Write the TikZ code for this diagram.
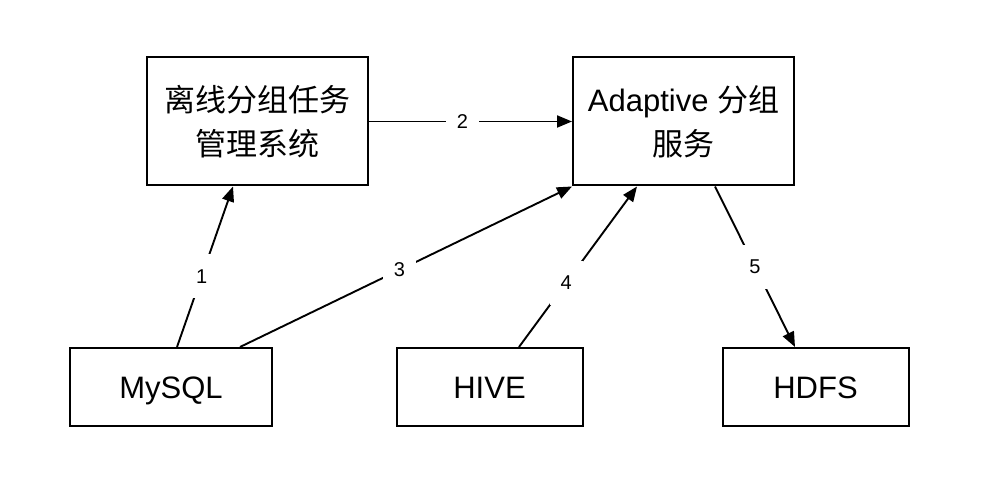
\documentclass[tikz,border=0pt]{standalone}
\usepackage{fontspec}
\setmainfont{Liberation Sans}
\newfontfamily\cjk{Noto Sans CJK SC}
\usetikzlibrary{
    arrows.meta,           % Modern arrow tips
    calc                   % Coordinate calculations
}

\tikzset{
    box/.style={draw, line width=1pt, inner sep=0pt, align=center,
        font=\fontsize{15.5pt}{22pt}\selectfont},
    bigbox/.style={box, minimum width=110.5pt, minimum height=64pt},
    smallbox/.style={box, minimum width=93pt, minimum height=39pt,
        text height=11.2pt, text depth=0pt},
    link/.style={line width=0.95pt, -{Triangle[length=7.5pt,width=6pt]}},
    num/.style={fill=white, inner sep=0pt, minimum width=16.5pt,
        minimum height=22pt, font=\fontsize{10pt}{12pt}\selectfont},
}

\begin{document}
\begin{tikzpicture}[x=0.5pt, y=-0.5pt]
    \useasboundingbox (0,0) rectangle (994,491);

    % upper row
    \node[bigbox] (offline) at (257.5,121.5) {{\cjk 离线分组任务}\\{\cjk 管理系统}};
    \node[bigbox] (adaptive) at (683.5,121.5) {Adaptive {\cjk 分组}\\{\cjk 服务}};

    % lower row
    \node[smallbox, minimum width=101pt] (mysql) at (171,387) {MySQL};
    \node[smallbox] (hive) at (489.5,387) {HIVE};
    \node[smallbox] (hdfs) at (815.5,387) {HDFS};

    % flows
    \draw[link] ($(mysql.north)+(6,0)$) -- node[num, pos=0.44] {1} ($(offline.south)+(-24.5,0)$);
    \draw[link] (offline.east) -- node[num, pos=0.46] {2} (adaptive.west);
    \draw[link] ($(mysql.north)+(69,0)$) -- node[num, pos=0.48] {3} (adaptive.south west);
    \draw[link] ($(hive.north)+(29.5,0)$) -- node[num, pos=0.4] {4} ($(adaptive.south)+(-46.5,0)$);
    \draw[link] ($(adaptive.south)+(31.5,0)$) -- node[num, pos=0.5] {5} ($(hdfs.north)+(-20.5,0)$);
\end{tikzpicture}
\end{document}
